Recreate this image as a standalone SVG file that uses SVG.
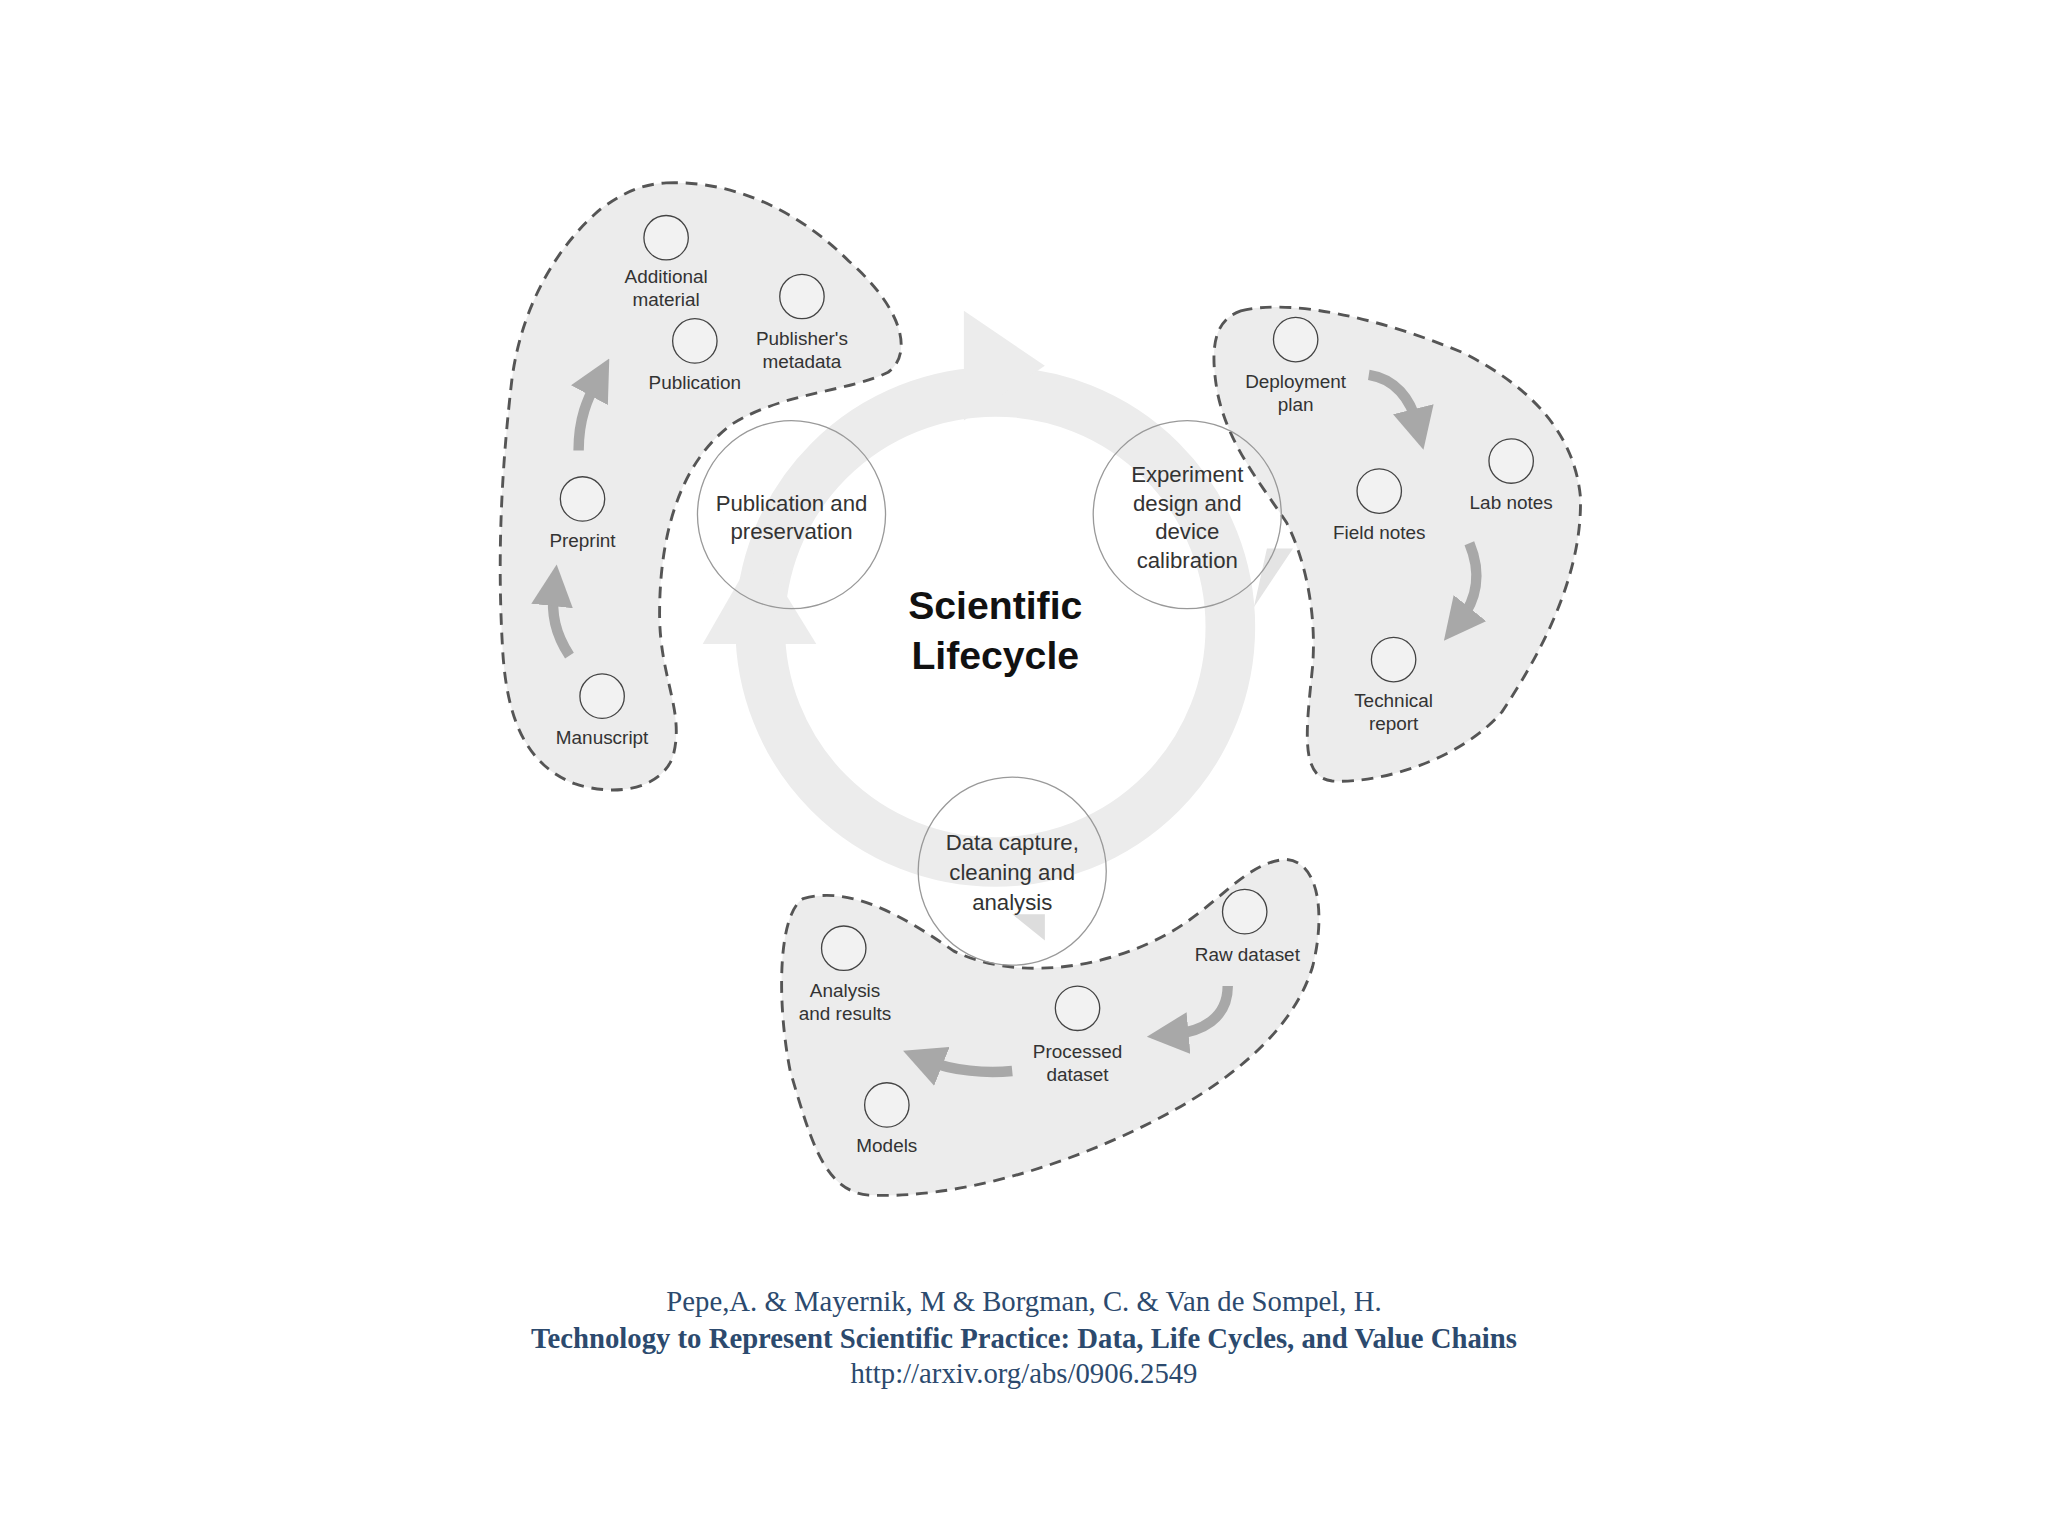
<svg xmlns="http://www.w3.org/2000/svg" width="2048" height="1536" viewBox="0 0 2048 1536">
<style>
.blob{fill:#ececec;stroke:#555;stroke-width:2.2;stroke-dasharray:9 6}
.sc{fill:#f2f2f2;stroke:#444;stroke-width:1}
.lb{font-family:"Liberation Sans",Arial,sans-serif;font-size:14.5px;fill:#333;text-anchor:middle}
.st{font-family:"Liberation Sans",Arial,sans-serif;font-size:17px;fill:#333;text-anchor:middle}
.stage{fill:none;stroke:#999;stroke-width:1}
.ar{fill:none;stroke:#a8a8a8;stroke-width:8}
.cap{font-family:"Liberation Serif","Times New Roman",serif;font-size:22px;fill:#2c4a6e;text-anchor:middle}
</style>
<defs>
<marker id="ah" markerWidth="4" markerHeight="4" refX="1.5" refY="2" orient="auto" markerUnits="strokeWidth"><path d="M0,0 L4,2 L0,4 z" fill="#a8a8a8"/></marker>
</defs>
<rect width="2048" height="1536" fill="#fff"/>
<g transform="scale(1.3061)">
<g id="blob-left"><path class="blob" d="M510,140 C560,138 610,160 650,200 C690,235 700,270 680,285 C650,300 600,300 560,325 C520,355 505,410 505,470 C505,520 525,545 515,580 C505,605 470,610 440,600 C400,585 388,545 385,500 C380,420 385,350 392,290 C400,230 430,185 460,160 C480,145 495,141 510,140 Z"/></g>
<g id="blob-right"><path class="blob" d="M950,238 C990,228 1060,245 1120,270 C1170,295 1205,330 1210,380 C1212,440 1180,500 1150,545 C1120,580 1060,600 1020,598 C995,595 1000,560 1005,510 C1008,470 1000,430 985,400 C965,370 940,340 932,300 C926,265 930,245 950,238 Z"/></g>
<g id="blob-bottom"><path class="blob" d="M615,688 C650,678 690,700 730,728 C770,748 830,745 880,722 C930,700 950,660 985,658 C1010,660 1015,700 1005,740 C990,790 940,830 880,860 C810,895 730,918 665,915 C630,912 620,870 605,820 C595,770 595,700 615,688 Z"/></g>
<g id="cycle">
<circle cx="762" cy="480" r="180" fill="none" stroke="#ececec" stroke-width="38"/>
<path d="M738,254 L738,238 L800,280 L738,322 L738,306 Z" fill="#ececec"/>
<path d="M538,493 L580,420 L625,493 Z" fill="#ececec"/>
<path d="M970,420 L990,420 L960,465 Z" fill="#e4e4e4"/>
<path d="M800,700 L800,720 L775,700 Z" fill="#ddd"/>
</g>
<g id="stage-pub"><circle class="stage" cx="606" cy="394" r="72" fill="rgba(240,240,240,0.4)"/><text class="st" x="606" y="391">Publication and</text><text class="st" x="606" y="413">preservation</text></g>
<g id="stage-exp"><circle class="stage" cx="909" cy="394" r="72" fill="rgba(240,240,240,0.4)"/><text class="st" x="909" y="369">Experiment</text><text class="st" x="909" y="391">design and</text><text class="st" x="909" y="413">device</text><text class="st" x="909" y="435">calibration</text></g>
<g id="stage-data"><circle class="stage" cx="775" cy="667" r="72" fill="rgba(240,240,240,0.4)"/><text class="st" x="775" y="651">Data capture,</text><text class="st" x="775" y="674">cleaning and</text><text class="st" x="775" y="697">analysis</text></g>
<g id="title"><text x="762" y="474" font-family="Liberation Sans,Arial,sans-serif" font-size="30" font-weight="bold" text-anchor="middle" fill="#111">Scientific</text><text x="762" y="512" font-family="Liberation Sans,Arial,sans-serif" font-size="30" font-weight="bold" text-anchor="middle" fill="#111">Lifecycle</text></g>
<g id="n-additional"><circle class="sc" cx="510" cy="182" r="17"/><text class="lb" x="510" y="217">Additional</text><text class="lb" x="510" y="234">material</text></g>
<g id="n-publishers"><circle class="sc" cx="614" cy="227" r="17"/><text class="lb" x="614" y="264">Publisher's</text><text class="lb" x="614" y="282">metadata</text></g>
<g id="n-publication"><circle class="sc" cx="532" cy="261" r="17"/><text class="lb" x="532" y="298">Publication</text></g>
<g id="n-preprint"><circle class="sc" cx="446" cy="382" r="17"/><text class="lb" x="446" y="419">Preprint</text></g>
<g id="n-manuscript"><circle class="sc" cx="461" cy="533" r="17"/><text class="lb" x="461" y="570">Manuscript</text></g>
<g id="n-deploy"><circle class="sc" cx="992" cy="260" r="17"/><text class="lb" x="992" y="297">Deployment</text><text class="lb" x="992" y="315">plan</text></g>
<g id="n-lab"><circle class="sc" cx="1157" cy="353" r="17"/><text class="lb" x="1157" y="390">Lab notes</text></g>
<g id="n-field"><circle class="sc" cx="1056" cy="376" r="17"/><text class="lb" x="1056" y="413">Field notes</text></g>
<g id="n-tech"><circle class="sc" cx="1067" cy="505" r="17"/><text class="lb" x="1067" y="541">Technical</text><text class="lb" x="1067" y="559">report</text></g>
<g id="n-raw"><circle class="sc" cx="953" cy="698" r="17"/><text class="lb" x="955" y="736">Raw dataset</text></g>
<g id="n-analysis"><circle class="sc" cx="646" cy="726" r="17"/><text class="lb" x="647" y="763">Analysis</text><text class="lb" x="647" y="781">and results</text></g>
<g id="n-processed"><circle class="sc" cx="825" cy="772" r="17"/><text class="lb" x="825" y="810">Processed</text><text class="lb" x="825" y="828">dataset</text></g>
<g id="n-models"><circle class="sc" cx="679" cy="846" r="17"/><text class="lb" x="679" y="882">Models</text></g>
<g id="connectors">
<path class="ar" marker-end="url(#ah)" d="M436,502 C425,485 422,470 424,452"/>
<path class="ar" marker-end="url(#ah)" d="M443,345 C443,320 450,305 457,292"/>
<path class="ar" marker-end="url(#ah)" d="M1048,287 C1068,290 1080,305 1085,325"/>
<path class="ar" marker-end="url(#ah)" d="M1125,416 C1135,440 1130,460 1118,475"/>
<path class="ar" marker-end="url(#ah)" d="M940,755 C940,780 920,790 898,792"/>
<path class="ar" marker-end="url(#ah)" d="M775,820 C755,822 730,820 710,812"/>
</g>
<g id="caption">
<text class="cap" x="784" y="1004">Pepe,A. &amp; Mayernik, M &amp; Borgman, C. &amp; Van de Sompel, H.</text>
<text class="cap" x="784" y="1032" font-weight="bold">Technology to Represent Scientific Practice: Data, Life Cycles, and Value Chains</text>
<text class="cap" x="784" y="1059" fill="#3a4fc0">http://arxiv.org/abs/0906.2549</text>
</g>
</g>
</svg>
